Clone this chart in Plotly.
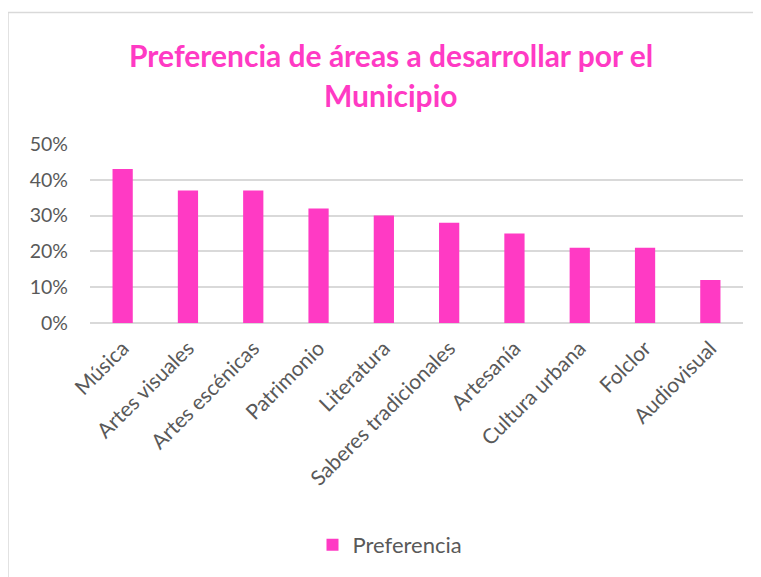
import plotly.graph_objects as go

categories = ["Música", "Artes visuales", "Artes escénicas", "Patrimonio", "Literatura",
              "Saberes tradicionales", "Artesanía", "Cultura urbana", "Folclor", "Audiovisual"]
values = [0.43, 0.37, 0.37, 0.32, 0.30, 0.28, 0.25, 0.21, 0.21, 0.12]
series_name = "Preferencia"
title_lines = ["Preferencia de áreas a desarrollar por el", "Municipio"]

OFF = 8  # page body margin
W, H = 761 - OFF, 577 - OFF
L, R, T, B = 90 - OFF, 18, 144 - OFF, 254
PH = H - T - B
PW = W - L - R

def py(p):
    return (323 - p) / PH

def px(p):
    return (p - 90) / PW

PINK = "#FF3AC4"
GREY = "#595959"
FONT = "Lato"

fig = go.Figure()
fig.add_trace(go.Bar(x=categories, y=values, name=series_name, marker_color=PINK,
                     marker_line_width=0, showlegend=True))

fig.update_layout(
    width=W, height=H,
    margin=dict(l=L, r=R, t=T, b=B),
    paper_bgcolor="white", plot_bgcolor="white",
    bargap=0.69,
    font=dict(family=FONT, color=GREY, size=16),
    showlegend=True,
    legend=dict(orientation="h", x=px(390), xanchor="center", y=py(545), yanchor="middle",
                font=dict(family=FONT, size=22, color=GREY)),
    xaxis=dict(tickangle=-45, tickfont=dict(family=FONT, size=21, color=GREY),
               showgrid=False, showline=False, ticks="", ticklabelstandoff=8),
    yaxis=dict(range=[0, 0.5], dtick=0.1, tickformat=".0%",
               tickfont=dict(family=FONT, size=19.5, color=GREY),
               showgrid=True, gridcolor="#D9D9D9", gridwidth=1.5,
               zeroline=True, zerolinecolor="#D9D9D9", zerolinewidth=1.5,
               showline=False, ticks="", ticklabelstandoff=21),
)

for txt, ypix in zip(title_lines, [55, 95]):
    fig.add_annotation(text="<b>" + txt + "</b>", xref="paper", yref="paper",
                       x=px(391), y=py(ypix), xanchor="center", yanchor="middle",
                       showarrow=False, font=dict(family=FONT, size=30, color=PINK))

# chart frame (top and left edges visible)
fig.add_shape(type="line", xref="paper", yref="paper", x0=px(8), x1=px(W + 20),
              y0=py(12.5), y1=py(12.5), line=dict(color="#D9D9D9", width=1.5))
fig.add_shape(type="line", xref="paper", yref="paper", x0=px(8), x1=px(8),
              y0=py(12.5), y1=py(H + 20), line=dict(color="#D9D9D9", width=1.5))

fig.write_html("out.html")
